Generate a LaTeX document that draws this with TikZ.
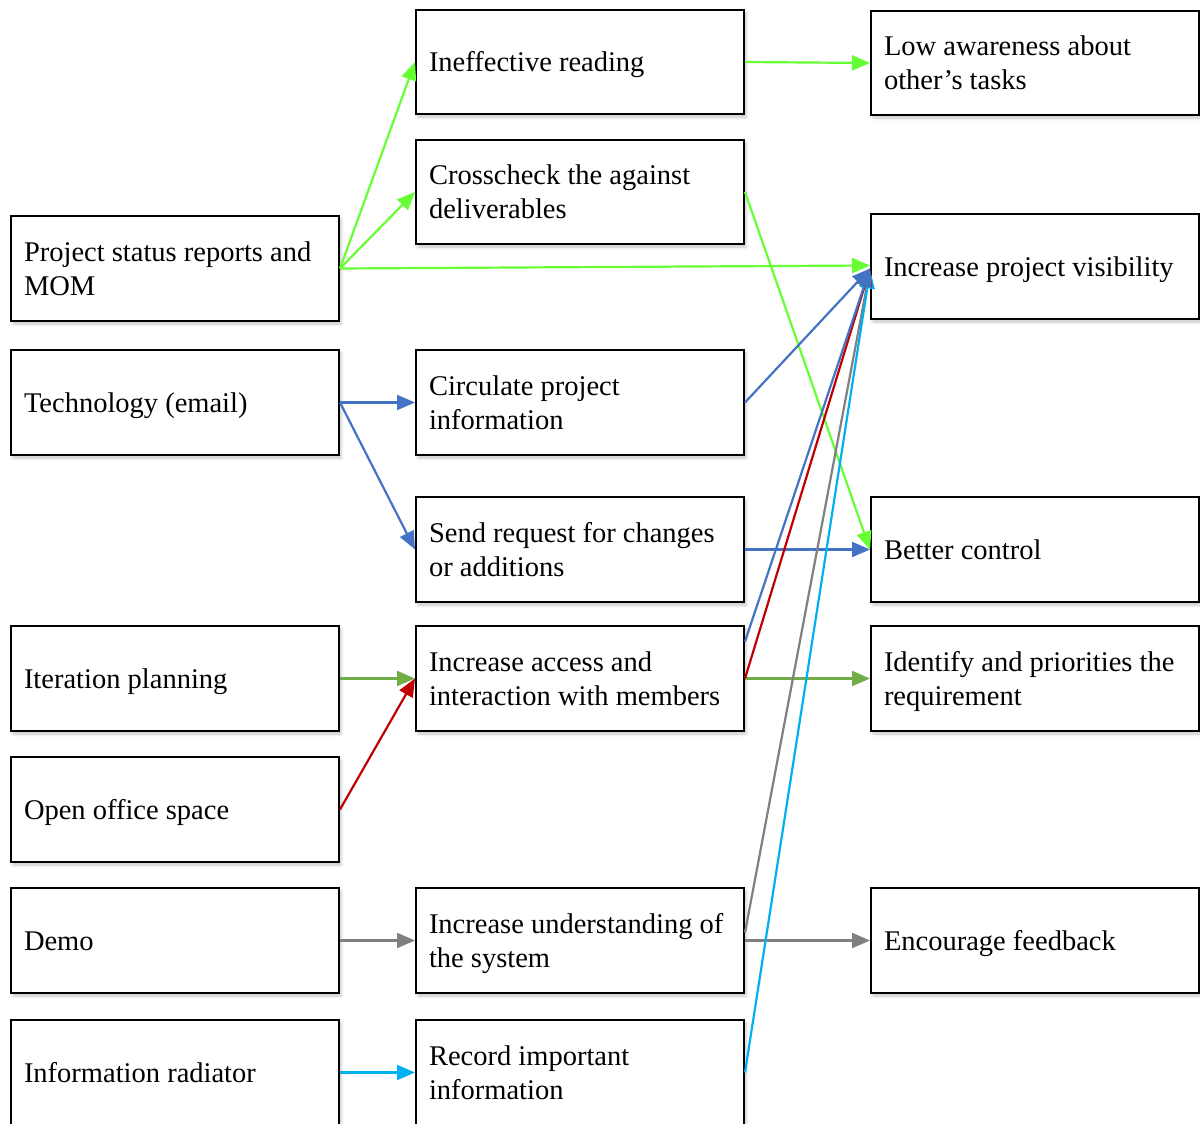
\documentclass[tikz,border=0pt]{standalone}
\usepackage{fontspec}
\setmainfont{Liberation Serif}
\usetikzlibrary{arrows.meta,shadows.blur}
\definecolor{cLime}{HTML}{66FF33}
\definecolor{cBlue}{HTML}{4472C4}
\definecolor{cGreen}{HTML}{70AD47}
\definecolor{cRed}{HTML}{C00000}
\definecolor{cGray}{HTML}{808080}
\definecolor{cCyan}{HTML}{00B0F0}
% line strut: every text line takes 34pt, 26.7pt above the baseline
\newcommand{\linestrut}{\rule[-7.3pt]{0pt}{34pt}}
\begin{document}
\begin{tikzpicture}[x=1pt,y=-1pt,
  box/.style={draw, line width=2pt, fill=white,
    minimum width=328pt, minimum height=105pt,
    text width=302pt, inner xsep=13pt, inner ysep=0pt, align=flush left,
    font=\fontsize{28.5}{34}\selectfont,
    execute at begin node=\linestrut, execute at end node=\linestrut,
    blur shadow={shadow xshift=2pt, shadow yshift=-3pt,
      shadow blur radius=3pt, shadow opacity=22}},
  link/.style={line width=2.2pt, -{Triangle[length=18pt,width=15pt]}}]
\useasboundingbox (0,0) rectangle (1200,1124);

% left column
\node[box] (status)   at (175,268.5)  {Project status reports and\\MOM};
\node[box] (tech)     at (175,402.5)  {Technology (email)};
\node[box] (iter)     at (175,678.5)  {Iteration planning};
\node[box] (open)     at (175,809.5)  {Open office space};
\node[box] (demo)     at (175,940.5)  {Demo};
\node[box] (radiator) at (175,1072.5) {Information radiator};

% middle column
\node[box, minimum height=104pt] (ineff) at (580,62) {Ineffective reading};
\node[box, minimum height=104pt] (cross) at (580,192) {Crosscheck the against\\deliverables};
\node[box] (circ)   at (580,402.5)  {Circulate project\\information};
\node[box] (send)   at (580,549.5)  {Send request for changes\\or additions};
\node[box] (access) at (580,678.5)  {Increase access and\\interaction with members};
\node[box] (under)  at (580,940.5)  {Increase understanding of\\the system};
\node[box] (record) at (580,1072.5) {Record important\\information};

% right column
\node[box, minimum height=104pt] (low) at (1035,63) {Low awareness about\\other’s tasks};
\node[box] (vis)      at (1035,266.5) {Increase project visibility};
\node[box] (better)   at (1035,549.5) {Better control};
\node[box] (ident)    at (1035,678.5) {Identify and priorities the\\requirement};
\node[box] (feedback) at (1035,940.5) {Encourage feedback};

% connectors
\draw[link,cLime] (status.east) -- (ineff.west);
\draw[link,cLime] (status.east) -- (cross.west);
\draw[link,cLime] (ineff.east) -- (low.west);
\draw[link,cLime] (cross.east) -- (better.west);
\draw[link,cBlue] (tech.east) -- (circ.west);
\draw[link,cBlue] (tech.east) -- (send.west);
\draw[link,cBlue] (send.east) -- (better.west);
\draw[link,cGreen] (iter.east) -- (access.west);
\draw[link,cRed] (open.east) -- (access.west);
\draw[link,cGreen] (access.east) -- (ident.west);
\draw[link,cGray] (demo.east) -- (under.west);
\draw[link,cGray] (under.east) -- (feedback.west);
\draw[link,cCyan] (radiator.east) -- (record.west);

\draw[link,cGray] ([yshift=8pt]under.east) -- ([yshift=-3pt]vis.west);
\draw[link,cCyan] (record.east) -- ([yshift=-4pt]vis.west);
\draw[link,cRed] (access.east) -- ([yshift=-2pt]vis.west);
\draw[link,cBlue] ([yshift=37pt]access.east) -- ([yshift=-2pt]vis.west);
\draw[link,cBlue] (circ.east) -- ([yshift=-2pt]vis.west);
\draw[link,cLime] (status.east) -- ([yshift=1pt]vis.west);
\end{tikzpicture}
\end{document}
